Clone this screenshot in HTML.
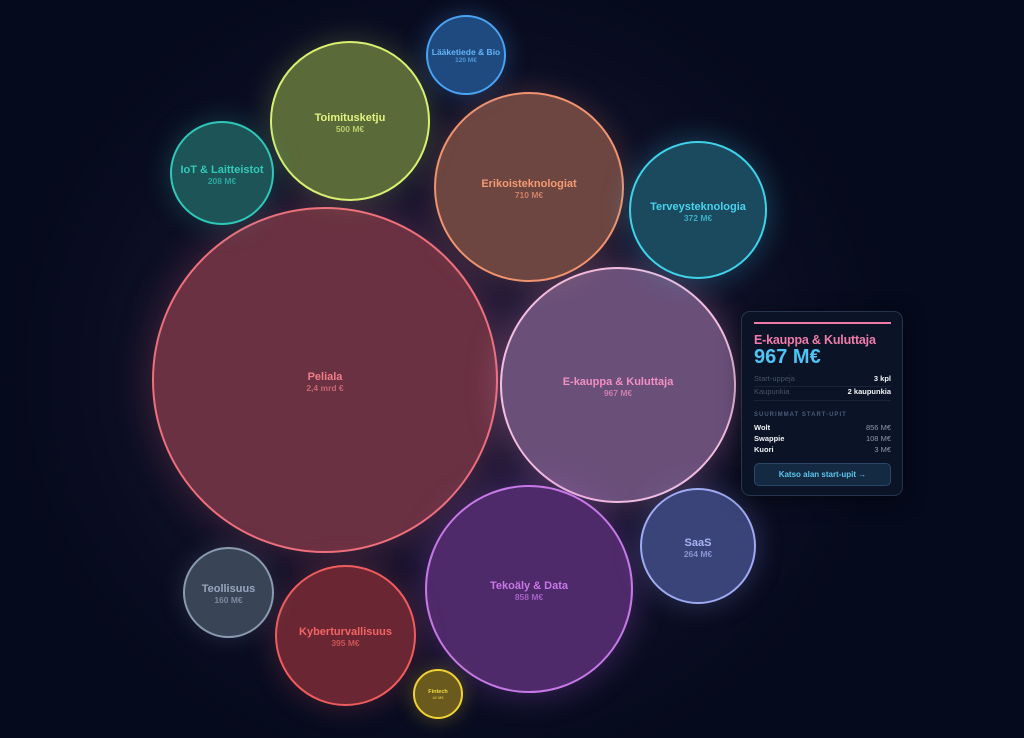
<!DOCTYPE html>
<html><head><meta charset="utf-8">
<style>
html,body{margin:0;padding:0;}
body{width:1024px;height:738px;overflow:hidden;background:#050a1c;font-family:"Liberation Sans",sans-serif;position:relative;}
.glow{position:absolute;left:0;top:0;width:1024px;height:738px;background:radial-gradient(ellipse 440px 410px at 450px 370px,rgba(45,32,70,0.75) 0%,rgba(30,24,55,0.5) 55%,rgba(5,10,28,0) 100%);}
.c{position:absolute;border-radius:50%;box-sizing:border-box;border:2px solid;display:flex;flex-direction:column;align-items:center;justify-content:center;text-align:center;padding-top:4px;}
.c b{display:block;font-weight:bold;font-size:11px;line-height:11px;}
.c span{display:block;font-size:8.5px;line-height:10px;font-weight:bold;opacity:.7;}
.card{position:absolute;left:741px;top:311px;width:162px;height:185px;box-sizing:border-box;border:1px solid #26344d;border-radius:9px;background:#0b1426;box-shadow:0 4px 20px rgba(0,0,0,.5);}
.card .bar{position:absolute;left:12px;top:10px;width:137px;height:2px;background:#f07aa5;}
.card .t{position:absolute;left:12px;top:21px;font-size:12.5px;font-weight:bold;color:#f07aaa;white-space:nowrap;letter-spacing:-0.2px;}
.card .v{position:absolute;left:12px;top:34px;font-size:20px;font-weight:bold;color:#4ec4f7;white-space:nowrap;}
.row{position:absolute;left:12px;width:137px;font-size:7.5px;color:#45536b;display:flex;justify-content:space-between;}
.row i{font-style:normal;color:#f2f4f8;font-weight:bold;}
.hr{position:absolute;left:12px;width:137px;height:1px;background:#1a2438;}
.hd{position:absolute;left:12px;top:100px;font-size:6px;letter-spacing:1px;color:#4a5a78;font-weight:bold;}
.st{position:absolute;left:12px;width:137px;font-size:7.5px;display:flex;justify-content:space-between;}
.st b{color:#f2f4f8;}
.st em{font-style:normal;color:#8a97ad;}
.btn{position:absolute;left:12px;top:151px;width:137px;height:23px;box-sizing:border-box;border:1px solid #2a4866;border-radius:5px;background:#132a42;color:#5cc6ee;font-size:8px;font-weight:bold;display:flex;align-items:center;justify-content:center;}
</style></head><body>
<div class="glow"></div>

<!-- Peliala -->
<div class="c" style="left:152px;top:207px;width:346px;height:346px;background:#6a3142;border-color:#ef6f7c;box-shadow:0 0 40px rgba(239,111,124,.25);color:#f27d88;"><b>Peliala</b><span>2,4 mrd €</span></div>
<!-- E-kauppa -->
<div class="c" style="left:500px;top:267px;width:236px;height:236px;background:#6a5079;border-color:#f2bde0;box-shadow:0 0 35px rgba(240,150,200,.3);color:#f38fc3;"><b>E-kauppa &amp; Kuluttaja</b><span>967 M€</span></div>
<!-- Tekoäly -->
<div class="c" style="left:425px;top:485px;width:208px;height:208px;background:#4e2a6a;border-color:#c679e6;box-shadow:0 0 35px rgba(190,100,230,.3);color:#c877e6;"><b>Tekoäly &amp; Data</b><span>858 M€</span></div>
<!-- Erikoisteknologiat -->
<div class="c" style="left:434px;top:92px;width:190px;height:190px;background:#6d4541;border-color:#f1936f;box-shadow:0 0 30px rgba(240,145,110,.22);color:#f49b73;"><b>Erikoisteknologiat</b><span>710 M€</span></div>
<!-- Toimitusketju -->
<div class="c" style="left:270px;top:41px;width:160px;height:160px;background:#5b6a39;border-color:#d9f070;box-shadow:0 0 30px rgba(210,240,110,.22);color:#e2f382;"><b>Toimitusketju</b><span>500 M€</span></div>
<!-- Terveysteknologia -->
<div class="c" style="left:629px;top:141px;width:138px;height:138px;background:#1b4a5f;border-color:#3fd3ea;box-shadow:0 0 30px rgba(60,210,235,.3);color:#46d4ec;"><b>Terveysteknologia</b><span>372 M€</span></div>
<!-- Kyberturvallisuus -->
<div class="c" style="left:275px;top:565px;width:141px;height:141px;background:#6a2733;border-color:#f05c5e;box-shadow:0 0 30px rgba(240,90,95,.25);color:#f46464;"><b>Kyberturvallisuus</b><span>395 M€</span></div>
<!-- SaaS -->
<div class="c" style="left:640px;top:488px;width:116px;height:116px;background:#3a4479;border-color:#9eaaf2;box-shadow:0 0 28px rgba(150,165,240,.25);color:#a9b4f2;"><b>SaaS</b><span>264 M€</span></div>
<!-- IoT -->
<div class="c" style="left:170px;top:121px;width:104px;height:104px;background:#1d5457;border-color:#2fc7b7;box-shadow:0 0 28px rgba(50,200,185,.25);color:#33c9b9;"><b>IoT &amp; Laitteistot</b><span>208 M€</span></div>
<!-- Teollisuus -->
<div class="c" style="left:183px;top:547px;width:91px;height:91px;background:#394457;border-color:#8a9ab1;box-shadow:0 0 25px rgba(140,155,180,.2);color:#97a6bc;"><b>Teollisuus</b><span>160 M€</span></div>
<!-- Lääketiede -->
<div class="c" style="left:426px;top:15px;width:80px;height:80px;background:#1e4a80;border-color:#4aa3f2;box-shadow:0 0 25px rgba(75,160,240,.3);color:#64b4f8;padding-top:2px;"><b style="font-size:8.5px;line-height:9px;">Lääketiede &amp; Bio</b><span style="font-size:6.5px;line-height:8px;">120 M€</span></div>
<!-- Fintech -->
<div class="c" style="left:413px;top:669px;width:50px;height:50px;background:#6a5a1e;border-color:#f1d232;box-shadow:0 0 20px rgba(240,210,50,.3);color:#f3dc44;padding-top:1px;"><b style="font-size:5.5px;line-height:6px;">Fintech</b><span style="font-size:4px;line-height:5px;">42 M€</span></div>

<div class="card">
  <div class="bar"></div>
  <div class="t">E-kauppa &amp; Kuluttaja</div>
  <div class="v">967 M€</div>
  <div class="row" style="top:62px;"><span>Start-uppeja</span><i>3 kpl</i></div>
  <div class="hr" style="top:74px;"></div>
  <div class="row" style="top:75px;"><span>Kaupunkia</span><i>2 kaupunkia</i></div>
  <div class="hr" style="top:88px;"></div>
  <div class="hd">SUURIMMAT START-UPIT</div>
  <div class="st" style="top:111px;"><b>Wolt</b><em>856 M€</em></div>
  <div class="st" style="top:122px;"><b>Swappie</b><em>108 M€</em></div>
  <div class="st" style="top:133px;"><b>Kuori</b><em>3 M€</em></div>
  <div class="btn">Katso alan start-upit →</div>
</div>
</body></html>
